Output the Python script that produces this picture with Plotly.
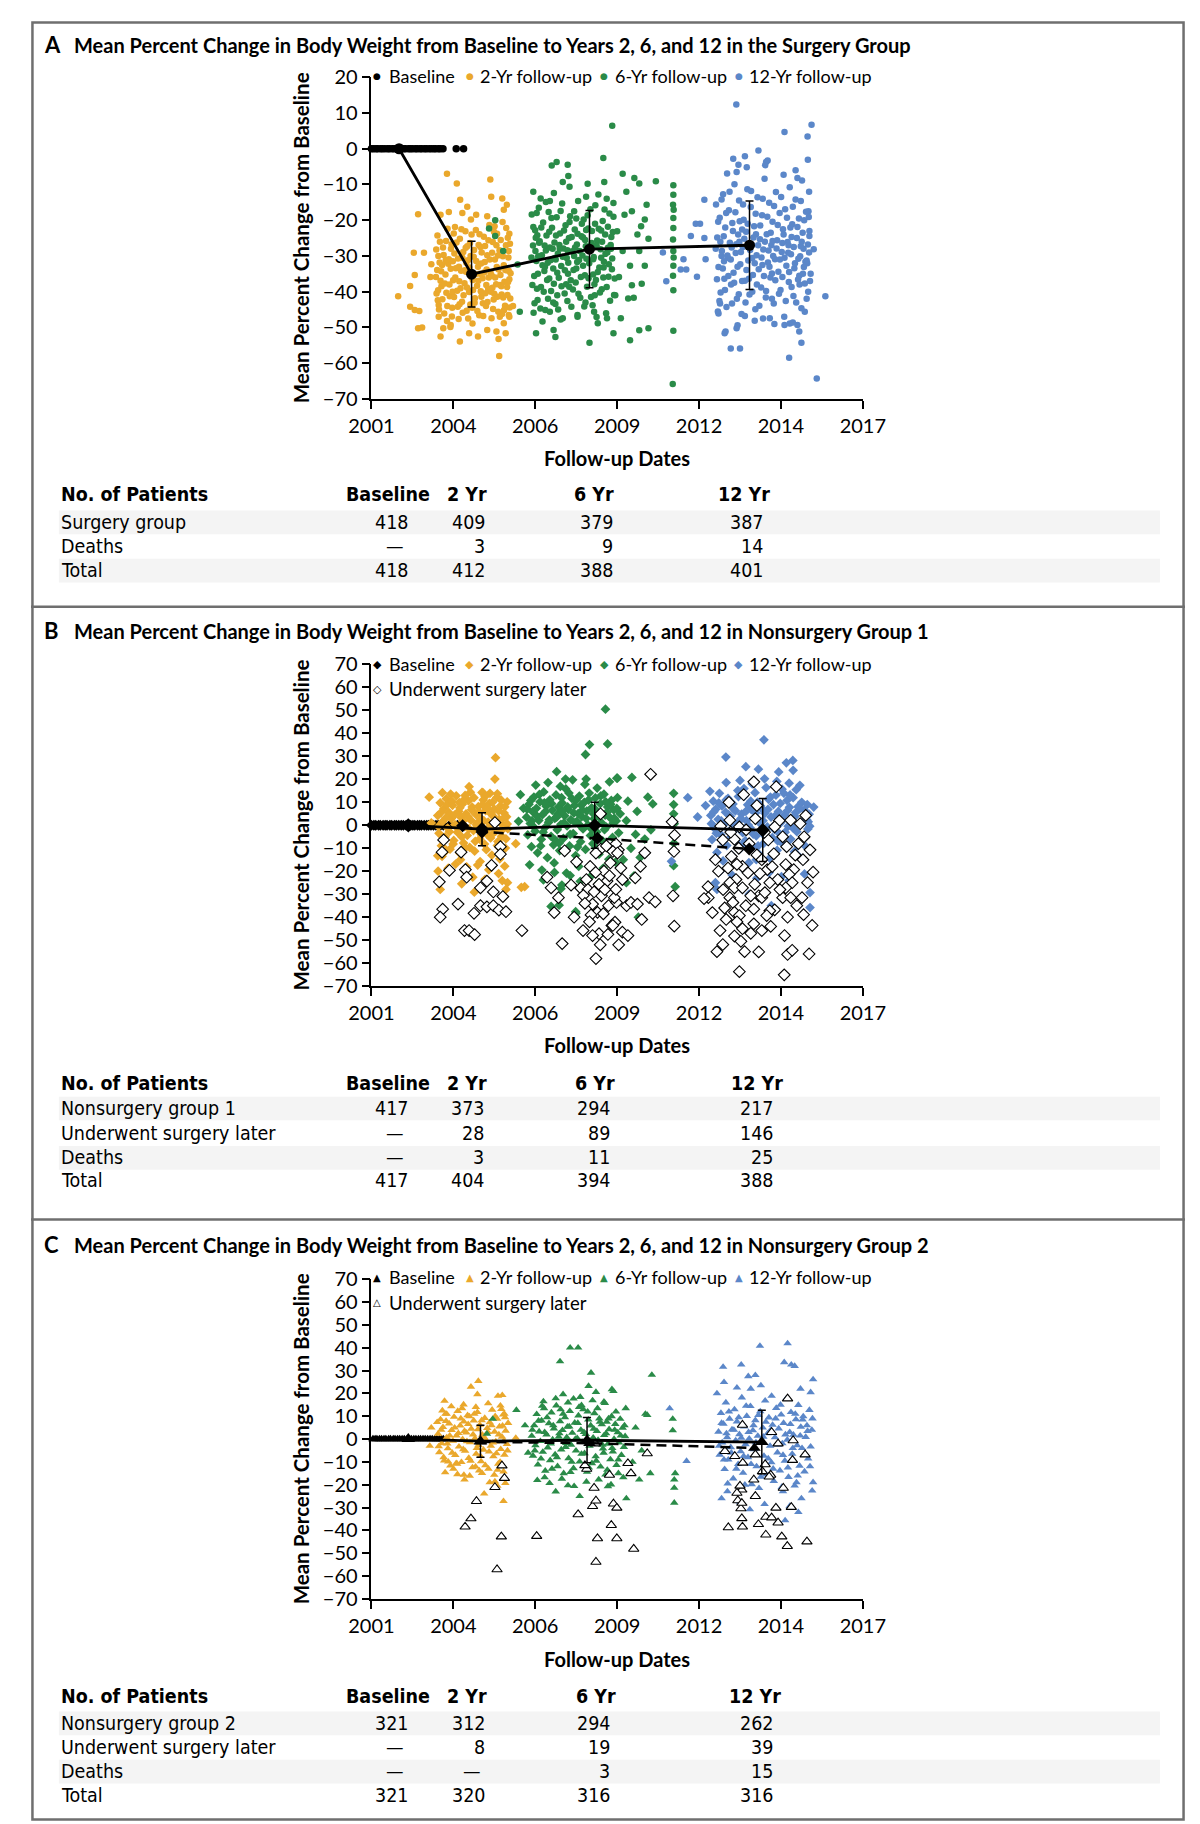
import plotly.graph_objects as go

W, H = 1200, 1824
FONT = "Lato, 'Open Sans', sans-serif"
TFONT = "'Liberation Sans Narrow', 'DejaVu Sans Condensed', 'Arial Narrow', sans-serif"
SYMFONT = "DejaVu Sans"

ORANGE = "#EAA82C"
GREEN = "#2A8B48"
BLUE = "#5B87C9"

TICK_VALS = [2001.0, 2003.667, 2006.333, 2009.0, 2011.667, 2014.333, 2017.0]
TICK_TEXT = ["2001", "2004", "2006", "2009", "2012", "2014", "2017"]

# ---------------- Panel A : surgery group ----------------
A_base_x = [2001.00, 2001.07, 2001.15, 2001.21, 2001.30, 2001.36, 2001.44, 2001.53, 2001.59, 2001.68,
            2001.74, 2001.83, 2001.90, 2001.96, 2002.05, 2002.11, 2002.21, 2002.27, 2002.34, 2002.43,
            2002.49, 2002.58, 2002.64, 2002.73, 2002.79, 2002.88, 2002.95, 2003.03, 2003.09, 2003.18,
            2003.24, 2003.33, 2003.76, 2004.00]
A_base_y = [0, 0, 0, 0, 0, 0, 0, 0, 0, 0, 0, 0, 0, 0, 0, 0, 0, 0, 0, 0, 0, 0, 0, 0, 0, 0, 0, 0, 0, 0, 0, 0, 0, 0]

A_2yr = [
    (2001.87, -41.3), (2002.26, -38.4), (2002.41, -35.3), (2002.38, -29.1), (2002.71, -29.1), (2002.52, -18.3),
    (2002.26, -44.2), (2002.41, -45.1), (2002.56, -45.4), (2002.52, -50.2), (2002.65, -50.0), (2002.92, -35.9),
    (2002.95, -32.3), (2003.46, -7.0), (2003.78, -9.7), (2004.87, -8.6), (2003.89, -14.3), (2004.12, -16.2),
    (2004.90, -13.4), (2005.41, -15.7), (2005.26, -13.9), (2005.16, -58.0), (2003.88, -53.9), (2003.25, -52.5),
    (2005.14, -53.2), (2005.37, -51.6), (2005.61, -44.0), (2005.47, -46.5), (2003.25, -18.5), (2003.52, -17.7),
    (2003.96, -18.0), (2004.24, -19.8), (2004.41, -18.5), (2004.77, -18.9), (2005.01, -21.7), (2005.31, -17.1),
    (2005.49, -23.8), (2005.47, -34.1), (2003.12, -40.5), (2003.10, -35.9), (2003.16, -42.4), (2003.19, -47.0),
    (2003.34, -50.2), (2003.58, -49.3), (2004.18, -51.6), (2004.47, -52.5), (2004.77, -50.7), (2005.07, -51.1),
    (2005.31, -48.8), (2005.49, -47.0),
    (2003.15, -24.3), (2003.22, -31.8), (2003.28, -38.5), (2003.19, -43.7), (2003.33, -27.6), (2003.41, -35.2),
    (2003.37, -46.1), (2003.48, -22.4), (2003.52, -30.9), (2003.55, -41.3), (2003.46, -48.2), (2003.61, -26.7),
    (2003.66, -36.8), (2003.63, -44.5), (2003.72, -21.9), (2003.75, -33.4), (2003.79, -39.7), (2003.70, -29.3),
    (2003.84, -47.6), (2003.88, -25.2), (2003.92, -34.1), (2003.95, -42.8), (2003.99, -28.9), (2004.03, -37.6),
    (2004.06, -23.1), (2004.10, -45.3), (2004.14, -31.2), (2004.18, -40.1), (2004.21, -26.4), (2004.25, -35.8),
    (2004.29, -48.9), (2004.33, -30.2), (2004.36, -43.1), (2004.40, -22.7), (2004.44, -38.3), (2004.47, -33.0),
    (2004.51, -46.6), (2004.55, -27.5), (2004.58, -41.4), (2004.62, -36.2), (2004.66, -24.6), (2004.69, -31.7),
    (2004.73, -44.0), (2004.77, -29.8), (2004.80, -39.2), (2004.84, -21.3), (2004.88, -34.7), (2004.91, -47.4),
    (2004.95, -26.1), (2004.98, -42.2), (2005.02, -31.0), (2005.06, -37.9), (2005.09, -23.8), (2005.13, -45.6),
    (2005.17, -28.4), (2005.20, -35.3), (2005.24, -40.8), (2005.27, -20.5), (2005.31, -32.6), (2005.35, -43.9),
    (2005.38, -27.0), (2005.42, -38.7), (2005.46, -30.4), (2005.49, -36.5), (2005.52, -41.9), (2005.44, -24.9),
    (2003.25, -36.9), (2003.58, -33.6), (2003.82, -30.7), (2004.08, -34.4), (2004.31, -39.5), (2004.57, -32.1),
    (2004.82, -36.0), (2005.08, -33.1), (2005.33, -37.2), (2003.44, -40.3), (2003.68, -23.7), (2003.97, -45.9),
    (2004.23, -30.0), (2004.49, -26.9), (2004.75, -33.8), (2005.00, -40.6), (2005.25, -46.2), (2005.40, -34.0),
    (2003.30, -32.5), (2003.86, -37.1), (2004.38, -35.1), (2004.93, -29.1), (2005.19, -38.1), (2004.64, -46.8),
    (2003.57, -49.9), (2004.12, -27.3)]
A_2yr_more = [
    (2003.11, -28.2), (2003.14, -33.9), (2003.17, -39.6), (2003.20, -45.0), (2003.23, -26.0), (2003.27, -34.3),
    (2003.31, -42.1), (2003.35, -29.7), (2003.39, -37.7), (2003.43, -25.8), (2003.47, -44.0), (2003.50, -32.2),
    (2003.54, -38.0), (2003.59, -28.0), (2003.62, -46.9), (2003.65, -31.5), (2003.69, -41.5), (2003.73, -36.0),
    (2003.77, -26.2), (2003.81, -44.2), (2003.85, -33.0), (2003.90, -39.0), (2003.93, -22.5), (2003.96, -30.5),
    (2004.00, -41.0), (2004.04, -34.0), (2004.07, -27.7), (2004.11, -38.8), (2004.15, -47.5), (2004.19, -33.2),
    (2004.22, -43.6), (2004.26, -24.0), (2004.30, -36.7), (2004.34, -28.3), (2004.37, -41.8), (2004.41, -31.4),
    (2004.45, -45.4), (2004.48, -36.9), (2004.52, -23.9), (2004.56, -39.9), (2004.59, -29.0), (2004.63, -43.2),
    (2004.67, -34.6), (2004.70, -27.2), (2004.74, -38.1), (2004.78, -42.9), (2004.81, -25.6), (2004.85, -31.0),
    (2004.89, -40.0), (2004.92, -35.5), (2004.96, -44.8), (2004.99, -23.2), (2005.03, -36.0), (2005.07, -27.0),
    (2005.10, -41.4), (2005.14, -33.8), (2005.18, -47.0), (2005.21, -25.5), (2005.23, -38.5), (2005.28, -30.1),
    (2005.32, -45.1), (2005.36, -33.9), (2005.39, -22.2), (2005.43, -40.9), (2005.47, -28.6), (2005.50, -44.4),
    (2005.53, -34.8), (2005.51, -26.6), (2003.18, -30.0), (2003.42, -31.1), (2003.64, -40.0), (2003.87, -43.5),
    (2004.09, -31.9), (2004.28, -44.5), (2004.53, -35.0), (2004.71, -40.4), (2004.94, -38.9), (2005.12, -29.9),
    (2005.29, -41.6), (2005.45, -37.3)]

A_6yr = [
    (2004.83, -22.3), (2005.03, -20.0), (2005.29, -28.6), (2005.03, -24.4), (2005.83, -45.6), (2005.76, -32.4),
    (2008.55, -2.6), (2008.84, 6.4), (2007.03, -3.7), (2006.87, -4.7), (2007.39, -4.5), (2006.27, -12.0),
    (2006.51, -13.9), (2006.81, -14.6), (2007.41, -7.6), (2007.23, -9.3), (2007.99, -13.4), (2008.58, -9.3),
    (2008.10, -54.3), (2006.36, -51.6), (2006.93, -50.7), (2006.99, -52.7), (2006.39, -39.2), (2006.81, -45.6),
    (2007.23, -47.4), (2007.71, -47.0), (2008.37, -48.8), (2008.67, -47.4), (2008.25, -45.6), (2009.18, -7.0),
    (2009.56, -8.2), (2009.72, -9.7), (2010.26, -9.1), (2009.96, -15.7), (2009.48, -17.5), (2009.90, -19.8),
    (2009.78, -21.7), (2010.02, -25.2), (2009.66, -24.0), (2009.72, -28.6), (2009.42, -32.7), (2009.90, -32.7),
    (2009.80, -37.8), (2009.48, -38.2), (2009.54, -41.7), (2009.36, -41.9), (2009.12, -47.4), (2009.42, -53.6),
    (2009.72, -50.8), (2010.02, -50.2), (2008.88, -51.6), (2008.94, -41.0), (2009.06, -35.9), (2009.18, -28.6),
    (2009.00, -23.1), (2009.24, -18.5), (2008.88, -15.2), (2009.30, -12.0),
    (2010.83, -10.2), (2010.83, -12.9), (2010.82, -15.7), (2010.84, -17.1), (2010.83, -19.4), (2010.83, -22.2),
    (2010.82, -25.4), (2010.83, -28.6), (2010.84, -30.4), (2010.83, -32.7), (2010.82, -35.5), (2010.83, -39.6),
    (2010.83, -50.9), (2010.81, -65.8),
    (2006.22, -18.4), (2006.26, -27.1), (2006.30, -35.6), (2006.33, -22.8), (2006.37, -31.4), (2006.41, -42.3),
    (2006.45, -16.5), (2006.48, -25.9), (2006.52, -38.7), (2006.55, -29.8), (2006.59, -20.6), (2006.63, -34.2),
    (2006.66, -45.1), (2006.70, -24.3), (2006.74, -31.9), (2006.77, -17.7), (2006.81, -27.6), (2006.85, -39.8),
    (2006.88, -22.1), (2006.92, -33.5), (2006.96, -26.2), (2006.99, -43.4), (2007.03, -19.2), (2007.07, -29.4),
    (2007.10, -36.1), (2007.14, -23.7), (2007.18, -32.8), (2007.21, -15.3), (2007.25, -27.9), (2007.29, -40.5),
    (2007.32, -21.4), (2007.36, -30.6), (2007.40, -35.0), (2007.43, -25.0), (2007.47, -18.9), (2007.51, -44.2),
    (2007.54, -28.7), (2007.58, -33.9), (2007.62, -22.6), (2007.65, -37.4), (2007.69, -26.8), (2007.73, -14.6),
    (2007.76, -31.1), (2007.80, -41.7), (2007.84, -24.5), (2007.87, -29.9), (2007.91, -19.8), (2007.95, -35.4),
    (2007.98, -27.3), (2008.02, -38.6), (2008.06, -22.3), (2008.09, -32.0), (2008.13, -16.9), (2008.17, -26.4),
    (2008.20, -43.8), (2008.24, -30.3), (2008.28, -21.0), (2008.31, -36.7), (2008.35, -25.7), (2008.39, -12.8),
    (2008.42, -33.2), (2008.46, -28.1), (2008.50, -39.3), (2008.53, -20.2), (2008.57, -31.6), (2008.61, -24.0),
    (2008.64, -46.0), (2008.68, -29.0), (2008.72, -35.8), (2008.75, -18.1), (2008.79, -26.9), (2008.83, -33.7),
    (2008.86, -23.3), (2008.90, -40.9), (2006.28, -45.9), (2006.57, -48.3), (2006.94, -12.4), (2007.16, -47.8),
    (2007.45, -10.6), (2007.71, -46.5), (2008.04, -9.8), (2008.33, -47.1), (2008.66, -14.0), (2006.43, -30.1),
    (2006.79, -36.3), (2007.05, -41.0), (2007.38, -28.4), (2007.60, -30.0), (2007.89, -24.8), (2008.22, -35.2),
    (2008.48, -22.9), (2008.70, -27.7), (2006.35, -24.9), (2006.68, -28.5), (2007.00, -31.0), (2007.34, -37.9),
    (2007.67, -19.5), (2007.97, -43.0)]
A_6yr_more = [
    (2006.21, -30.4), (2006.24, -38.1), (2006.27, -21.9), (2006.31, -43.2), (2006.34, -28.6), (2006.38, -18.0),
    (2006.42, -35.0), (2006.46, -26.3), (2006.50, -44.7), (2006.53, -22.0), (2006.57, -32.6), (2006.61, -40.0),
    (2006.64, -27.1), (2006.68, -14.9), (2006.72, -36.7), (2006.75, -42.0), (2006.79, -23.2), (2006.83, -31.2),
    (2006.86, -19.4), (2006.90, -28.0), (2006.94, -37.8), (2006.97, -30.6), (2007.01, -24.3), (2007.05, -34.7),
    (2007.08, -45.0), (2007.12, -26.9), (2007.16, -17.4), (2007.19, -38.5), (2007.23, -30.2), (2007.27, -22.9),
    (2007.30, -34.0), (2007.34, -26.0), (2007.38, -42.6), (2007.41, -31.9), (2007.45, -20.5), (2007.49, -36.8),
    (2007.52, -24.7), (2007.56, -39.4), (2007.60, -17.5), (2007.63, -27.6), (2007.67, -33.5), (2007.71, -23.8),
    (2007.74, -40.6), (2007.78, -28.6), (2007.82, -35.9), (2007.85, -21.0), (2007.89, -32.7), (2007.93, -44.1),
    (2007.96, -25.5), (2008.00, -30.8), (2008.04, -18.6), (2008.07, -36.2), (2008.11, -27.2), (2008.15, -41.5),
    (2008.18, -23.0), (2008.22, -30.9), (2008.26, -37.9), (2008.29, -15.8), (2008.33, -27.0), (2008.37, -34.5),
    (2008.40, -22.4), (2008.44, -40.2), (2008.48, -30.5), (2008.51, -26.0), (2008.55, -36.0), (2008.59, -17.0),
    (2008.62, -29.4), (2008.66, -38.7), (2008.70, -21.8), (2008.73, -32.3), (2008.77, -42.5), (2008.81, -24.7),
    (2008.84, -30.7), (2008.88, -19.0), (2008.92, -36.3), (2006.40, -24.2), (2006.65, -33.0), (2006.92, -43.0),
    (2007.13, -28.0), (2007.44, -38.6), (2007.70, -31.7), (2007.99, -22.7), (2008.27, -41.0), (2008.56, -33.2),
    (2008.80, -28.0)]

A_12yr = [
    (2012.88, 12.4), (2014.45, 4.7), (2015.33, 6.7), (2015.20, 3.4), (2015.21, -3.1), (2015.78, -41.3),
    (2015.50, -64.3), (2014.60, -58.5), (2012.70, -55.9), (2013.00, -55.9), (2012.50, -51.6), (2015.00, -54.3),
    (2013.60, -0.5), (2013.90, -3.3), (2015.25, -12.0), (2015.40, -28.1), (2010.49, -29.0), (2010.60, -37.1),
    (2011.07, -33.8), (2011.25, -33.8), (2011.16, -30.9), (2011.40, -24.4), (2011.56, -21.0), (2011.70, -21.0),
    (2011.60, -35.8), (2011.84, -14.3), (2011.88, -30.9), (2011.84, -25.0), (2012.78, -2.8), (2013.16, -2.1),
    (2012.89, -6.5), (2012.95, -4.5), (2013.85, -3.7), (2014.81, -6.0), (2014.87, -8.2), (2015.23, -17.5),
    (2015.26, -23.0), (2015.17, -31.3), (2014.93, -35.5), (2015.11, -45.6), (2014.87, -49.3), (2014.93, -51.1),
    (2014.45, -49.3), (2014.62, -48.9), (2012.89, -50.2), (2012.53, -51.1), (2013.16, -46.8), (2012.30, -46.1),
    (2012.35, -43.3), (2013.75, -47.5), (2013.97, -47.4),
    (2012.22, -15.6), (2012.26, -24.8), (2012.30, -33.1), (2012.34, -19.3), (2012.37, -40.2), (2012.41, -28.6),
    (2012.45, -12.7), (2012.49, -36.4), (2012.52, -22.0), (2012.56, -44.3), (2012.60, -30.5), (2012.64, -17.2),
    (2012.67, -26.3), (2012.71, -38.0), (2012.75, -20.8), (2012.79, -34.7), (2012.82, -9.9), (2012.86, -29.2),
    (2012.90, -42.0), (2012.94, -24.0), (2012.97, -14.5), (2013.01, -32.3), (2013.05, -46.2), (2013.09, -27.5),
    (2013.12, -19.9), (2013.16, -36.9), (2013.20, -23.2), (2013.24, -11.3), (2013.27, -31.3), (2013.31, -40.8),
    (2013.35, -16.3), (2013.39, -26.9), (2013.42, -35.3), (2013.46, -21.7), (2013.50, -44.9), (2013.54, -29.8),
    (2013.57, -13.6), (2013.61, -33.7), (2013.65, -25.3), (2013.69, -38.8), (2013.72, -18.6), (2013.76, -28.2),
    (2013.80, -8.4), (2013.84, -41.6), (2013.87, -23.9), (2013.91, -31.8), (2013.95, -15.1), (2013.99, -36.0),
    (2014.02, -27.0), (2014.06, -20.4), (2014.10, -43.3), (2014.14, -30.9), (2014.17, -12.1), (2014.21, -25.6),
    (2014.25, -34.4), (2014.29, -18.0), (2014.32, -39.5), (2014.36, -28.9), (2014.40, -22.5), (2014.44, -47.0),
    (2014.47, -16.9), (2014.51, -32.7), (2014.55, -26.1), (2014.59, -37.3), (2014.62, -10.8), (2014.66, -29.5),
    (2014.70, -21.1), (2014.74, -41.2), (2014.77, -33.4), (2014.81, -14.2), (2014.85, -25.0), (2014.89, -36.6),
    (2014.92, -19.5), (2014.96, -30.1), (2015.00, -44.6), (2015.04, -23.5), (2015.07, -28.0), (2015.11, -37.7),
    (2015.15, -17.6), (2015.19, -32.0), (2015.22, -40.0), (2015.26, -24.4), (2015.30, -35.0), (2012.28, -45.5),
    (2012.58, -6.9), (2012.92, -49.4), (2013.22, -5.2), (2013.48, -48.1), (2013.82, -4.6), (2014.12, -49.0),
    (2014.42, -7.3), (2014.72, -48.6), (2015.02, -8.9), (2012.40, -30.0), (2012.73, -27.6), (2013.07, -22.6),
    (2013.40, -30.6), (2013.73, -32.5), (2014.04, -34.9), (2014.38, -26.4), (2014.68, -24.7), (2014.98, -27.3),
    (2015.25, -29.0)]
A_12yr_more = [
    (2012.21, -28.0), (2012.25, -36.5), (2012.29, -20.4), (2012.33, -42.6), (2012.36, -26.0), (2012.40, -14.2),
    (2012.44, -33.5), (2012.47, -24.5), (2012.51, -39.5), (2012.55, -18.0), (2012.59, -29.9), (2012.62, -35.6),
    (2012.66, -12.0), (2012.70, -31.0), (2012.74, -43.3), (2012.77, -23.0), (2012.81, -37.5), (2012.85, -17.8),
    (2012.88, -26.7), (2012.92, -33.0), (2012.96, -40.7), (2012.99, -20.3), (2013.03, -28.9), (2013.07, -37.0),
    (2013.10, -15.6), (2013.14, -25.2), (2013.18, -43.0), (2013.21, -33.9), (2013.25, -21.0), (2013.29, -36.4),
    (2013.33, -28.3), (2013.36, -11.8), (2013.40, -40.0), (2013.44, -24.8), (2013.48, -32.0), (2013.51, -18.2),
    (2013.55, -38.0), (2013.59, -27.0), (2013.63, -43.9), (2013.66, -21.5), (2013.70, -30.4), (2013.74, -14.0),
    (2013.78, -35.6), (2013.81, -26.0), (2013.85, -39.8), (2013.89, -19.0), (2013.93, -28.5), (2013.96, -33.0),
    (2014.00, -23.5), (2014.04, -42.0), (2014.08, -30.0), (2014.11, -16.0), (2014.15, -36.8), (2014.19, -27.9),
    (2014.23, -21.3), (2014.27, -40.6), (2014.30, -31.0), (2014.34, -13.5), (2014.38, -35.9), (2014.42, -24.0),
    (2014.45, -30.5), (2014.49, -42.6), (2014.53, -19.3), (2014.57, -29.1), (2014.60, -34.5), (2014.64, -22.0),
    (2014.68, -38.7), (2014.72, -16.2), (2014.75, -27.5), (2014.79, -32.0), (2014.83, -43.0), (2014.87, -21.9),
    (2014.90, -30.8), (2014.94, -38.0), (2014.98, -14.6), (2015.01, -26.0), (2015.05, -35.0), (2015.09, -20.0),
    (2015.13, -31.6), (2015.17, -42.0), (2015.21, -26.8), (2015.24, -19.1), (2015.28, -37.0), (2012.48, -31.5),
    (2012.98, -26.0), (2013.52, -23.9), (2014.06, -25.8), (2014.58, -27.0), (2015.08, -33.1)]

A_mean_x = [2001.90, 2004.26, 2008.10, 2013.31]
A_mean_y = [0.0, -35.1, -28.1, -27.0]
A_mean_sd = [0.0, 9.2, 10.8, 12.4]

# ---------------- Panel B : nonsurgery group 1 ----------------
B_base_x = [2001.00, 2001.08, 2001.14, 2001.23, 2001.29, 2001.38, 2001.45, 2001.51, 2001.60, 2001.66,
            2001.75, 2001.81, 2001.89, 2001.97, 2002.04, 2002.13, 2002.19, 2002.28, 2002.35, 2002.41,
            2002.50, 2002.57, 2002.63, 2002.72, 2002.80, 2002.86, 2002.94, 2003.02, 2003.10, 2003.17,
            2003.25, 2003.34, 2003.55, 2003.80]
B_base_y = [0, 0, 0, 0, 0, 0, 0, 0, 0, 0, 0, 0, 0, 0, 0, 0, 0, 0, 0, 0, 0, 0, 0, 0, 0, 0, 0, 0, 0, 0, 0, 0, 0, 0]

B_2yr = [
    (2005.04, 29.4), (2005.02, 20.1), (2004.18, 16.8), (2002.88, 12.2), (2004.60, 14.3), (2003.24, -27.9),
    (2005.38, -27.9), (2005.99, -26.7), (2003.17, -20.0), (2003.94, -25.5), (2004.35, -29.1), (2005.43, -25.0),
    (2003.31, 14.2), (2003.16, -13.3), (2004.63, 14.2), (2002.95, 1.0), (2005.70, -8.0), (2005.88, -27.0),
    (2003.16, 4.2), (2003.20, -3.5), (2003.24, 9.8), (2003.28, -8.9), (2003.32, 1.6), (2003.36, 7.3),
    (2003.40, -5.1), (2003.44, 11.5), (2003.48, -1.2), (2003.52, 5.6), (2003.56, -10.4), (2003.60, 2.9),
    (2003.64, 8.7), (2003.68, -6.6), (2003.72, 0.3), (2003.76, 12.8), (2003.80, -3.0), (2003.84, 6.1),
    (2003.88, -12.2), (2003.92, 3.4), (2003.96, 9.2), (2004.00, -7.7), (2004.04, -0.6), (2004.08, 5.0),
    (2004.12, -4.4), (2004.16, 10.6), (2004.20, -9.6), (2004.24, 2.2), (2004.28, 7.9), (2004.32, -2.3),
    (2004.36, -11.3), (2004.40, 4.7), (2004.44, 0.9), (2004.48, 8.1), (2004.52, -6.0), (2004.56, 3.0),
    (2004.60, -1.8), (2004.64, 11.0), (2004.68, -8.2), (2004.72, 6.4), (2004.76, -3.9), (2004.80, 1.4),
    (2004.84, 9.5), (2004.88, -5.5), (2004.92, -13.0), (2004.96, 4.0), (2005.00, 7.0), (2005.04, -2.7),
    (2005.08, 12.1), (2005.12, -7.1), (2005.16, 2.6), (2005.20, 8.4), (2005.24, -4.8), (2005.28, 0.0),
    (2005.32, 5.3), (2005.36, -9.9), (2005.40, 3.7), (2005.44, -1.5), (2003.30, -13.5), (2003.58, 13.6),
    (2003.90, -15.0), (2004.22, 14.4), (2004.54, -15.8), (2004.86, 13.9), (2005.18, -14.6), (2005.42, 10.2),
    (2003.74, -16.9), (2004.10, -18.1), (2004.46, -17.3), (2004.82, -19.4), (2005.14, -21.0), (2005.34, -17.8),
    (2003.50, -18.7), (2004.30, -22.6), (2004.70, -23.5), (2005.26, -24.1)]
B_2yr_more = [
    (2003.18, -0.5), (2003.26, 5.5), (2003.34, -6.7), (2003.42, 3.2), (2003.46, 8.9), (2003.54, -2.8),
    (2003.62, 10.5), (2003.66, -8.1), (2003.70, 4.4), (2003.78, -0.9), (2003.86, 9.9), (2003.94, -5.0),
    (2003.98, 1.9), (2004.02, 11.2), (2004.06, -9.8), (2004.14, 3.8), (2004.18, -1.5), (2004.26, 6.8),
    (2004.34, 12.0), (2004.38, -7.0), (2004.42, 0.2), (2004.50, 5.9), (2004.58, -4.1), (2004.62, 9.0),
    (2004.66, 2.0), (2004.74, -10.6), (2004.78, 7.4), (2004.82, -1.1), (2004.90, 4.9), (2004.94, 10.0),
    (2004.98, -3.3), (2005.06, 1.6), (2005.10, -8.8), (2005.14, 6.3), (2005.22, 11.0), (2005.26, -2.0),
    (2005.30, 3.1), (2005.34, 8.0), (2005.38, -5.9), (2005.42, 0.6), (2003.44, -10.9), (2004.05, 13.0),
    (2004.70, 12.5), (2005.10, 13.7), (2003.88, 7.6)]

B_6yr = [
    (2008.62, 50.5), (2008.10, 35.1), (2008.69, 35.4), (2007.97, 30.8), (2007.03, 23.3), (2007.32, 20.1),
    (2007.99, 20.1), (2008.99, 20.5), (2005.85, 13.3), (2005.95, 7.4), (2005.79, 1.7), (2009.01, 20.5),
    (2009.48, 20.8), (2010.00, 12.2), (2010.16, 9.3), (2006.85, -35.3), (2007.66, -38.3), (2009.69, -40.0),
    (2010.89, -26.7), (2010.84, 13.9), (2010.84, 9.0), (2010.84, 5.0), (2010.86, 0.7), (2010.84, -4.3),
    (2010.85, -7.8), (2010.83, -11.4), (2010.84, -17.6), (2009.10, 5.0), (2009.30, 2.0), (2009.60, -4.0),
    (2009.90, -6.0), (2009.45, -10.0), (2009.20, -15.0), (2009.75, -14.0), (2009.55, -22.0), (2009.30, -25.0),
    (2006.96, -20.5), (2007.11, -34.8), (2007.47, -21.9), (2007.65, -37.6), (2007.17, -27.6), (2009.35, 10.5),
    (2009.65, 6.0), (2010.10, -2.0),
    (2006.05, 3.5), (2006.09, -4.2), (2006.13, 9.1), (2006.17, 0.8), (2006.21, -9.3), (2006.25, 5.9),
    (2006.29, 12.3), (2006.33, -2.6), (2006.37, 7.4), (2006.41, -12.0), (2006.45, 2.1), (2006.49, 10.2),
    (2006.53, -6.1), (2006.57, 4.6), (2006.61, 14.5), (2006.65, -1.0), (2006.69, 8.3), (2006.73, -14.1),
    (2006.77, 1.3), (2006.81, 11.1), (2006.85, -4.8), (2006.89, 6.5), (2006.93, -8.5), (2006.97, 3.0),
    (2007.01, 13.2), (2007.05, -2.0), (2007.09, 7.9), (2007.13, -11.0), (2007.17, 0.4), (2007.21, 9.7),
    (2007.25, -5.7), (2007.29, 4.1), (2007.33, 15.8), (2007.37, -0.3), (2007.41, 6.9), (2007.45, -9.0),
    (2007.49, 2.4), (2007.53, 11.6), (2007.57, -3.6), (2007.61, 8.6), (2007.65, -13.2), (2007.69, 1.7),
    (2007.73, 5.1), (2007.77, 12.7), (2007.81, -7.2), (2007.85, 3.8), (2007.89, -1.6), (2007.93, 10.0),
    (2007.97, -10.5), (2008.01, 6.2), (2008.05, 0.1), (2008.09, 14.0), (2008.13, -4.5), (2008.17, 7.6),
    (2008.21, -8.0), (2008.25, 2.8), (2008.29, 11.9), (2008.33, -2.9), (2008.37, 5.4), (2008.41, -12.6),
    (2008.45, 9.4), (2008.49, 1.1), (2008.53, -6.8), (2008.57, 13.5), (2008.61, 4.4), (2008.65, -0.8),
    (2008.69, 8.0), (2008.73, -14.8), (2008.77, 3.3), (2008.81, 10.8), (2008.85, -5.3), (2008.89, 6.7),
    (2008.93, -9.7), (2008.97, 1.9), (2009.01, 12.0), (2009.05, -3.3), (2006.15, -17.2), (2006.55, -19.5),
    (2006.95, -16.4), (2007.35, -20.8), (2007.75, -17.9), (2008.15, -22.1), (2008.55, -18.6), (2008.95, -16.0),
    (2006.35, 17.5), (2006.75, 18.6), (2007.15, 16.9), (2007.55, 19.8), (2007.95, 17.8), (2008.35, 16.2),
    (2008.75, 18.9), (2006.60, -23.8), (2007.20, -26.0), (2007.80, -24.4), (2008.40, -25.1)]
B_6yr_more = [
    (2006.07, 7.0), (2006.19, 10.8), (2006.27, -0.5), (2006.39, 4.0), (2006.47, 13.4), (2006.59, -3.0),
    (2006.67, 6.0), (2006.79, 2.4), (2006.87, 9.4), (2006.99, -6.5), (2007.07, 4.8), (2007.19, 12.0),
    (2007.27, 1.0), (2007.39, 8.0), (2007.47, -4.0), (2007.59, 5.3), (2007.67, 10.9), (2007.79, 0.0),
    (2007.87, 6.6), (2007.99, 2.9), (2008.07, 11.0), (2008.19, -2.0), (2008.27, 7.2), (2008.39, 3.9),
    (2008.47, 12.8), (2008.59, -1.9), (2008.67, 5.7), (2008.79, 9.1), (2008.87, 0.9), (2008.99, 7.3),
    (2006.23, 2.0), (2006.63, 9.8), (2007.03, 3.5), (2007.43, 14.0), (2007.83, 8.8), (2008.23, 5.0),
    (2008.63, 10.2), (2008.91, 3.1), (2006.51, -9.0), (2007.11, -7.8), (2007.71, -9.5), (2008.31, -10.0),
    (2008.83, -11.5), (2007.23, 6.2), (2007.63, 1.2)]

B_12yr = [
    (2013.78, 37.2), (2012.54, 29.7), (2013.19, 25.5), (2013.60, 24.4), (2014.51, 27.2), (2014.72, 28.2),
    (2014.26, 23.2), (2014.73, 23.9), (2012.25, -27.9), (2015.28, -29.3), (2015.28, -35.8), (2013.03, -27.2),
    (2014.02, -35.0), (2011.62, 3.6), (2012.02, 14.8), (2011.88, 8.6), (2010.77, -15.7), (2015.40, 7.9),
    (2015.22, 1.5), (2011.30, 12.0), (2012.20, -25.0), (2014.60, -24.0), (2013.30, -30.0),
    (2012.05, 4.3), (2012.09, -6.2), (2012.13, 10.5), (2012.17, -1.4), (2012.21, 7.0), (2012.25, -11.8),
    (2012.29, 2.6), (2012.33, 13.9), (2012.37, -4.0), (2012.41, 8.4), (2012.45, -15.5), (2012.49, 0.5),
    (2012.53, 5.7), (2012.57, -8.8), (2012.61, 11.7), (2012.65, -2.5), (2012.69, 3.9), (2012.73, -13.0),
    (2012.77, 9.3), (2012.81, -0.2), (2012.85, 6.3), (2012.89, -7.4), (2012.93, 15.1), (2012.97, 1.8),
    (2013.01, -10.2), (2013.05, 4.9), (2013.09, -3.2), (2013.13, 12.6), (2013.17, -6.7), (2013.21, 2.0),
    (2013.25, 8.9), (2013.29, -16.3), (2013.33, -1.1), (2013.37, 6.8), (2013.41, -9.5), (2013.45, 3.1),
    (2013.49, 14.2), (2013.53, -4.6), (2013.57, 10.1), (2013.61, -12.4), (2013.65, 0.9), (2013.69, 7.5),
    (2013.73, -2.1), (2013.77, -7.9), (2013.81, 5.2), (2013.85, 16.4), (2013.89, -0.7), (2013.93, 11.3),
    (2013.97, -14.3), (2014.01, 3.6), (2014.05, -5.4), (2014.09, 9.0), (2014.13, -1.9), (2014.17, 13.1),
    (2014.21, -10.9), (2014.25, 6.0), (2014.29, -3.7), (2014.33, 1.2), (2014.37, 15.7), (2014.41, -8.3),
    (2014.45, 4.5), (2014.49, -17.0), (2014.53, 10.8), (2014.57, -0.4), (2014.61, 7.8), (2014.65, -6.0),
    (2014.69, 2.9), (2014.73, 12.0), (2014.77, -11.5), (2014.81, 5.5), (2014.85, -2.8), (2014.89, 8.1),
    (2014.93, -13.7), (2014.97, 0.2), (2015.01, 10.0), (2015.05, -4.9), (2015.09, 6.6), (2015.13, -9.1),
    (2015.17, 2.4), (2015.21, -1.6), (2015.25, 4.8), (2012.35, -20.1), (2012.75, -21.8), (2013.15, -19.6),
    (2013.55, -23.0), (2013.95, -20.6), (2014.35, -22.4), (2014.75, -19.0), (2015.10, -21.2), (2012.55, 18.6),
    (2013.00, 19.5), (2013.40, 18.0), (2013.80, 20.2), (2014.20, 19.1), (2014.60, 18.3), (2014.95, 17.4)]
B_12yr_more = [
    (2012.07, 0.7), (2012.15, 5.9), (2012.23, -3.5), (2012.31, 9.7), (2012.39, 1.9), (2012.47, -7.9),
    (2012.55, 11.0), (2012.63, 4.6), (2012.71, -5.0), (2012.79, 7.1), (2012.87, -1.5), (2012.95, 12.5),
    (2013.03, 3.0), (2013.11, -8.2), (2013.19, 6.0), (2013.27, 0.1), (2013.35, 10.5), (2013.43, -3.8),
    (2013.51, 5.4), (2013.59, -9.0), (2013.67, 8.4), (2013.75, 2.0), (2013.83, -4.9), (2013.91, 6.9),
    (2013.99, 12.3), (2014.07, -0.7), (2014.15, 4.1), (2014.23, -6.8), (2014.31, 9.5), (2014.39, 2.6),
    (2014.47, -3.0), (2014.55, 6.4), (2014.63, 13.2), (2014.71, -1.0), (2014.79, 3.8), (2014.87, -8.6),
    (2014.95, 7.2), (2015.03, 1.4), (2015.11, -5.5), (2015.19, 9.0), (2015.27, -0.4), (2013.13, 16.0),
    (2014.43, 13.9), (2013.53, -15.0), (2014.83, 15.5)]

B_later = [
    (2003.35, -6.4), (2003.30, -11.7), (2003.21, -24.6), (2003.54, -19.6), (2003.32, -36.5), (2003.24, -40.0),
    (2003.82, -34.3), (2003.92, -11.7), (2004.06, -19.3), (2004.10, -22.6), (2004.03, -45.8), (2004.18, -45.8),
    (2004.36, -47.6), (2004.34, -38.3), (2004.55, -35.0), (2004.55, -27.2), (2004.76, -24.3), (2004.97, -29.0),
    (2004.91, -17.4), (2004.76, -35.5), (2004.97, -35.0), (2005.15, -36.9), (2005.28, -31.0), (2005.38, -37.6),
    (2005.02, 1.2), (2005.20, -9.3), (2005.20, -12.6), (2005.90, -45.8),
    (2006.72, -22.6), (2006.85, -27.2), (2007.09, -31.5), (2007.29, -11.1), (2007.68, -15.9), (2007.21, -51.5),
    (2007.81, -27.3), (2007.89, -45.8), (2008.00, -23.6), (2008.12, -17.9), (2008.20, -34.3), (2008.31, -58.0),
    (2008.36, -37.9), (2008.41, -47.2), (2008.46, 5.0), (2008.46, -10.4), (2008.49, -30.7), (2008.67, -24.3),
    (2008.72, -35.0), (2008.78, -16.4), (2008.83, -43.6), (2008.93, -42.2), (2008.98, -33.6), (2009.04, -10.7),
    (2008.05, -27.9), (2008.41, -25.7), (2008.57, -20.0), (2008.31, -12.1), (2008.96, -8.1), (2008.86, -11.4),
    (2009.12, -18.6), (2009.17, -23.6), (2008.91, -31.5), (2008.86, -43.6), (2009.17, -46.5), (2009.59, -22.9),
    (2009.76, -17.9), (2009.31, -35.0), (2009.45, -33.6), (2009.66, -34.3), (2010.04, -31.5), (2010.24, -33.3),
    (2010.09, 22.2), (2010.79, 1.5), (2010.87, -4.3), (2010.85, -11.4), (2010.82, -30.7), (2010.86, -43.9),
    (2008.96, -27.9), (2009.01, -12.1), (2007.90, -30.5), (2008.15, -39.0), (2008.25, -29.0), (2008.55, -38.5),
    (2008.60, -28.0), (2008.75, -22.0), (2008.30, -20.5), (2008.10, -42.0), (2008.45, -52.0), (2007.60, -40.0),
    (2007.50, -26.0), (2006.95, -38.0), (2008.70, -47.5), (2009.05, -52.0), (2009.35, -48.0), (2009.80, -41.0),
    (2009.90, -12.0), (2008.20, -48.0), (2007.95, -34.0), (2008.65, -9.0),
    (2013.45, 18.9), (2014.18, 16.8), (2013.55, 8.6), (2013.12, 13.3), (2012.64, 10.0), (2012.67, 2.2),
    (2012.37, -0.4), (2012.44, -6.4), (2012.82, -6.1), (2012.96, -10.0), (2012.72, -13.6), (2012.30, -20.0),
    (2012.61, -18.6), (2012.87, -23.6), (2013.26, -20.7), (2013.48, -25.7), (2013.61, -30.7), (2013.89, -19.3),
    (2014.10, -12.4), (2014.28, 2.0), (2014.39, -5.0), (2014.52, -9.3), (2014.65, 2.2), (2014.96, 0.7),
    (2015.09, -5.0), (2015.28, -10.7), (2015.38, -20.4), (2015.14, 4.3), (2014.75, -19.3), (2014.49, -17.1),
    (2014.60, -21.4), (2014.70, -25.0), (2014.23, -23.6), (2013.97, -25.0), (2013.71, -31.5), (2014.13, -36.8),
    (2014.49, -27.2), (2014.39, -31.5), (2014.65, -31.5), (2015.02, -31.5), (2015.07, -38.9), (2015.35, -43.6),
    (2014.55, -40.0), (2013.71, -45.8), (2013.61, -55.1), (2012.98, -63.7), (2014.44, -65.1), (2014.55, -56.2),
    (2014.70, -54.4), (2013.45, -42.9), (2013.08, -45.0), (2012.82, -48.2), (2013.03, -50.5), (2012.44, -51.9),
    (2012.35, -45.8), (2011.97, -31.5), (2011.83, -31.9), (2011.96, -26.7), (2012.67, -31.5), (2012.77, -33.6),
    (2012.82, -37.9), (2012.98, -39.3), (2013.19, -35.0), (2013.35, -30.7), (2013.45, -36.5), (2012.67, -25.0),
    (2012.82, -27.2), (2013.08, -27.2), (2013.81, -29.3), (2013.97, -37.2), (2013.87, -39.3), (2013.08, -17.9),
    (2013.55, -12.9), (2013.71, -15.0), (2013.92, -6.4), (2012.98, -0.7), (2014.13, -0.7), (2013.50, 2.9),
    (2012.20, -15.0), (2012.50, -36.0), (2012.90, -42.0), (2013.30, -8.0), (2013.80, -3.0), (2014.00, -44.0),
    (2014.30, -28.0), (2014.80, -13.0), (2015.20, -25.0), (2012.10, -38.0), (2012.55, -41.0), (2013.15, -55.0),
    (2013.35, -47.0), (2014.85, -35.0), (2012.25, -55.0), (2012.70, -3.0), (2013.65, -21.0), (2014.05, -18.0),
    (2014.45, -48.0), (2015.25, -56.0), (2012.90, -17.0), (2014.90, -8.0), (2013.20, -2.0), (2015.05, -15.0),
    (2012.45, -28.0)]

B_mean_x = [2002.20, 2004.60, 2008.27, 2013.74]
B_mean_y = [0.0, -1.7, 0.0, -2.1]
B_mean_sd = [0.0, 7.2, 10.0, 13.7]
B_dash_x = [2003.97, 2004.60, 2008.36, 2013.30]
B_dash_y = [-0.2, -2.9, -5.7, -10.3]

# ---------------- Panel C : nonsurgery group 2 ----------------
C_base_x = [2001.05, 2001.12, 2001.18, 2001.26, 2001.33, 2001.41, 2001.47, 2001.56, 2001.62, 2001.71,
            2001.77, 2001.85, 2001.92, 2002.00, 2002.07, 2002.16, 2002.22, 2002.30, 2002.38, 2002.45,
            2002.53, 2002.60, 2002.68, 2002.75, 2002.83, 2002.91, 2002.98, 2003.06, 2003.13, 2003.21,
            2003.28, 2003.34]
C_base_y = [0, 0, 0, 0, 0, 0, 0, 0, 0, 0, 0, 0, 0, 0, 0, 0, 0, 0, 0, 0, 0, 0, 0, 0, 0, 0, 0, 0, 0, 0, 0, 0]

C_2yr = [
    (2004.48, 25.4), (2004.24, 22.9), (2003.38, 16.7), (2005.12, 18.9), (2005.26, 19.2), (2004.45, 19.6),
    (2003.45, 11.0), (2003.14, 7.4), (2005.23, 13.1), (2005.33, 11.0), (2004.03, -17.8), (2004.01, -15.7),
    (2004.67, -23.9), (2005.30, -27.2), (2005.02, -18.6), (2005.36, -19.3), (2004.39, -12.1), (2003.50, -9.9),
    (2003.76, -10.6), (2002.95, 5.0), (2002.90, -3.0), (2005.70, 0.5), (2005.10, -20.5), (2004.85, -19.0),
    (2003.17, 2.3), (2003.21, -5.8), (2003.25, 8.6), (2003.29, -1.9), (2003.33, 5.2), (2003.37, -9.4),
    (2003.41, 11.0), (2003.45, 0.7), (2003.49, -4.1), (2003.53, 6.8), (2003.57, -11.6), (2003.61, 3.9),
    (2003.65, -0.8), (2003.69, 9.7), (2003.73, -7.0), (2003.77, 1.5), (2003.81, 12.3), (2003.85, -3.3),
    (2003.89, 5.9), (2003.93, -10.1), (2003.97, -0.1), (2004.01, 7.6), (2004.05, -5.2), (2004.09, 2.8),
    (2004.13, 10.4), (2004.17, -8.3), (2004.21, -1.4), (2004.25, 4.5), (2004.29, -12.4), (2004.33, 8.1),
    (2004.37, 0.3), (2004.41, -6.5), (2004.45, 11.8), (2004.49, -2.6), (2004.53, 6.2), (2004.57, -9.8),
    (2004.61, 1.9), (2004.65, -4.7), (2004.69, 9.2), (2004.73, -0.5), (2004.77, 4.8), (2004.81, -13.0),
    (2004.85, 7.3), (2004.89, -3.0), (2004.93, 12.8), (2004.97, -7.6), (2005.01, 3.2), (2005.05, -1.1),
    (2005.09, 8.9), (2005.13, -10.8), (2005.17, 5.5), (2005.21, -4.4), (2005.25, 1.0), (2005.29, 10.7),
    (2005.33, -6.9), (2005.37, 3.6), (2005.41, -2.2), (2005.45, 7.0), (2003.40, -14.6), (2003.80, -15.4),
    (2004.20, -16.1), (2004.60, -14.9), (2005.00, -15.7), (2005.30, -14.2), (2003.60, 14.3), (2004.00, 15.1),
    (2004.40, 14.0), (2004.80, 15.6), (2005.20, 14.6)]
C_2yr_more = [
    (2003.19, -3.2), (2003.27, 4.0), (2003.35, -8.0), (2003.43, 7.9), (2003.47, -2.0), (2003.55, 1.5),
    (2003.63, -6.0), (2003.71, 5.0), (2003.79, -10.8), (2003.83, 2.6), (2003.91, 9.0), (2003.99, -4.5),
    (2004.03, 3.5), (2004.11, -1.0), (2004.15, 6.5), (2004.23, -9.5), (2004.31, 2.0), (2004.35, 11.0),
    (2004.43, -4.0), (2004.47, 4.3), (2004.55, -7.5), (2004.59, 8.2), (2004.67, 0.8), (2004.71, -11.5),
    (2004.79, 3.0), (2004.83, -5.5), (2004.91, 6.0), (2004.95, -1.6), (2005.03, 10.0), (2005.07, -6.3),
    (2005.15, 2.0), (2005.19, -10.0), (2005.27, 5.8), (2005.31, -0.8), (2005.35, 9.5), (2005.43, -5.0),
    (2003.31, 12.5), (2003.95, 13.5), (2004.51, -13.8), (2005.11, -13.5), (2004.19, 9.9), (2003.67, -13.0)]

C_6yr = [
    (2007.47, 40.0), (2007.73, 40.0), (2007.14, 34.0), (2008.15, 29.0), (2010.13, 28.1), (2008.07, 23.2),
    (2008.31, 20.6), (2008.83, 21.8), (2008.88, 21.0), (2007.24, 19.6), (2007.58, 17.7), (2007.84, 14.8),
    (2008.57, 16.3), (2009.28, 13.5), (2009.92, 11.0), (2010.81, 8.8), (2005.72, 12.7), (2004.95, 8.8),
    (2004.76, 2.3), (2007.78, -25.0), (2009.30, -26.0), (2010.86, -27.9), (2010.86, -21.4), (2010.86, -17.8),
    (2010.89, -15.0), (2010.08, -15.0), (2009.72, -17.8), (2006.64, -16.8), (2007.40, -20.3), (2008.70, -20.7),
    (2009.04, -15.0), (2010.81, 3.8), (2009.98, 10.5), (2006.00, 6.0), (2006.10, -6.0), (2009.60, 5.0),
    (2009.80, -5.0), (2009.50, -10.0), (2007.00, -23.0),
    (2006.22, 1.4), (2006.26, -7.3), (2006.30, 6.0), (2006.34, -2.8), (2006.38, 10.9), (2006.42, -11.2),
    (2006.46, 3.3), (2006.50, -0.9), (2006.54, 8.1), (2006.58, -5.6), (2006.62, 13.5), (2006.66, -13.9),
    (2006.70, 2.0), (2006.74, -3.7), (2006.78, 6.9), (2006.82, -9.3), (2006.86, 11.6), (2006.90, -0.2),
    (2006.94, 4.6), (2006.98, -6.8), (2007.02, 14.7), (2007.06, -11.9), (2007.10, 1.0), (2007.14, 7.8),
    (2007.18, -4.6), (2007.22, 3.9), (2007.26, -15.0), (2007.30, 9.5), (2007.34, -1.8), (2007.38, 5.4),
    (2007.42, -8.4), (2007.46, 12.2), (2007.50, -2.5), (2007.54, 2.7), (2007.58, -12.8), (2007.62, 7.1),
    (2007.66, -5.1), (2007.70, 0.4), (2007.74, 10.3), (2007.78, -9.9), (2007.82, 4.0), (2007.86, -1.3),
    (2007.90, 13.0), (2007.94, -6.2), (2007.98, 2.2), (2008.02, -14.4), (2008.06, 8.5), (2008.10, -3.0),
    (2008.14, 5.9), (2008.18, -10.6), (2008.22, 0.6), (2008.26, 11.3), (2008.30, -7.6), (2008.34, 3.5),
    (2008.38, -0.4), (2008.42, 9.0), (2008.46, -12.1), (2008.50, 6.4), (2008.54, -4.2), (2008.58, 1.7),
    (2008.62, -15.6), (2008.66, 7.5), (2008.70, -2.1), (2008.74, 4.3), (2008.78, -8.9), (2008.82, 10.0),
    (2008.86, -5.5), (2008.90, 0.0), (2008.94, 6.6), (2008.98, -11.4), (2009.02, 2.9), (2009.06, -1.6),
    (2009.10, 8.8), (2009.14, -7.0), (2009.18, 4.9), (2009.22, -3.5), (2009.26, 1.2), (2006.40, -18.0),
    (2006.80, -19.3), (2007.20, -17.4), (2007.60, -20.6), (2008.00, -18.7), (2008.40, -17.7), (2008.80, -19.9),
    (2009.20, -16.8), (2006.60, 16.5), (2007.00, 17.8), (2007.40, 16.0), (2007.80, 18.4), (2008.20, 16.9),
    (2008.60, 15.8)]
C_6yr_more = [
    (2006.24, 4.0), (2006.32, -5.0), (2006.44, 8.0), (2006.52, -8.6), (2006.64, 3.0), (2006.72, 9.5),
    (2006.84, -2.0), (2006.92, 6.0), (2007.04, -8.0), (2007.12, 2.5), (2007.24, 11.0), (2007.32, -3.5),
    (2007.44, 5.5), (2007.52, -10.0), (2007.64, 0.0), (2007.72, 7.0), (2007.84, -6.5), (2007.92, 3.0),
    (2008.04, 12.0), (2008.12, -1.0), (2008.24, 4.5), (2008.32, -9.5), (2008.44, 7.5), (2008.52, -2.5),
    (2008.64, 2.5), (2008.72, 9.0), (2008.84, -4.0), (2008.92, 4.0), (2009.04, -9.0), (2009.12, 1.5),
    (2009.24, 6.0), (2006.56, 14.5), (2007.16, 13.0), (2007.76, 14.0), (2008.36, 13.5), (2008.96, 12.0),
    (2006.88, -13.0), (2007.48, -14.5), (2008.08, -12.5), (2008.68, -13.5), (2007.36, 0.8), (2008.56, -6.0)]

C_12yr = [
    (2014.55, 41.9), (2013.65, 40.8), (2014.44, 33.6), (2014.67, 32.6), (2014.78, 32.0), (2012.45, 31.6),
    (2013.04, 32.6), (2013.27, 27.5), (2015.38, 26.1), (2013.68, 23.5), (2014.97, 22.0), (2012.48, 24.9),
    (2012.90, 22.5), (2013.35, 22.0), (2014.03, 18.9), (2014.47, -35.6), (2014.20, -30.1), (2014.62, -29.3),
    (2015.35, -22.6), (2013.32, -30.8), (2014.40, -22.9), (2012.59, -22.9), (2010.71, 13.4), (2011.26, -9.6),
    (2012.40, -26.0), (2013.00, -27.5), (2015.00, -26.0), (2014.90, -32.0), (2013.80, -28.5), (2012.25, 20.0),
    (2015.30, 20.5), (2013.50, 28.0),
    (2012.30, 3.2), (2012.34, -6.9), (2012.38, 11.4), (2012.42, -1.5), (2012.46, 6.7), (2012.50, -13.2),
    (2012.54, 16.0), (2012.58, 0.8), (2012.62, -9.0), (2012.66, 8.9), (2012.70, -3.6), (2012.74, 4.2),
    (2012.78, -17.3), (2012.82, 13.0), (2012.86, -0.6), (2012.90, 7.7), (2012.94, -11.0), (2012.98, 2.1),
    (2013.02, -5.4), (2013.06, 18.2), (2013.10, -14.8), (2013.14, 5.5), (2013.18, -2.3), (2013.22, 10.1),
    (2013.26, -8.0), (2013.30, 0.2), (2013.34, 14.4), (2013.38, -19.8), (2013.42, 3.8), (2013.46, -4.5),
    (2013.50, 8.2), (2013.54, -12.0), (2013.58, 1.4), (2013.62, -21.5), (2013.66, 12.1), (2013.70, -1.0),
    (2013.74, 5.0), (2013.78, -7.4), (2013.82, 16.8), (2013.86, -15.6), (2013.90, 2.5), (2013.94, 9.4),
    (2013.98, -3.0), (2014.02, -10.2), (2014.06, 6.2), (2014.10, -18.4), (2014.14, 0.7), (2014.18, 13.6),
    (2014.22, -5.9), (2014.26, 4.6), (2014.30, -13.8), (2014.34, 10.7), (2014.38, -1.9), (2014.42, 7.0),
    (2014.46, -9.5), (2014.50, 17.5), (2014.54, -0.3), (2014.58, -16.6), (2014.62, 3.0), (2014.66, 11.8),
    (2014.70, -6.5), (2014.74, 1.9), (2014.78, -20.4), (2014.82, 8.6), (2014.86, -2.8), (2014.90, 14.9),
    (2014.94, -11.7), (2014.98, 5.3), (2015.02, -4.0), (2015.06, 9.9), (2015.10, -14.2), (2015.14, 0.9),
    (2015.18, 6.0), (2015.22, -8.6), (2015.26, 12.7), (2015.30, -3.3), (2015.34, 4.0), (2015.38, -18.9)]
C_12yr_more = [
    (2012.32, -3.0), (2012.40, 7.0), (2012.48, -9.0), (2012.56, 2.5), (2012.64, 12.0), (2012.72, -6.0),
    (2012.80, 4.0), (2012.88, -13.0), (2012.96, 9.5), (2013.04, 0.5), (2013.12, -7.5), (2013.20, 14.5),
    (2013.28, 3.0), (2013.36, -11.0), (2013.44, 6.0), (2013.52, -1.5), (2013.60, 10.5), (2013.68, -16.5),
    (2013.76, 1.0), (2013.84, 7.5), (2013.92, -8.5), (2014.00, 4.0), (2014.08, -13.0), (2014.16, 9.0),
    (2014.24, -2.5), (2014.32, 15.0), (2014.40, -7.0), (2014.48, 2.0), (2014.56, -12.5), (2014.64, 6.5),
    (2014.72, -4.0), (2014.80, 11.0), (2014.88, -16.0), (2014.96, 1.5), (2015.04, 8.5), (2015.12, -7.0),
    (2015.20, 3.5), (2015.28, -12.0), (2015.36, 9.0), (2013.16, -20.0), (2014.36, -21.0), (2014.84, -19.0),
    (2012.60, -19.5)]

C_later = [
    (2005.25, -11.6), (2005.33, -17.1), (2005.02, -21.1), (2004.42, -27.2), (2004.24, -34.8), (2004.05, -38.4),
    (2005.23, -42.7), (2005.09, -57.1),
    (2006.38, -42.5), (2007.73, -33.0), (2008.01, -13.1), (2007.95, -11.5), (2008.25, -21.4), (2008.20, -29.4),
    (2008.31, -27.0), (2008.31, -53.8), (2008.36, -43.5), (2008.75, -15.7), (2008.81, -37.7), (2008.88, -28.3),
    (2008.99, -30.1), (2008.99, -43.5), (2009.35, -10.6), (2009.45, -15.0), (2009.54, -48.1), (2009.98, -6.3),
    (2008.29, -2.0),
    (2013.08, 6.2), (2014.55, 17.7), (2014.03, 3.0), (2014.24, -2.0), (2014.73, -0.6), (2015.12, -6.8),
    (2012.51, -5.3), (2012.83, -7.5), (2013.09, -10.4), (2013.50, -6.8), (2013.82, -11.1), (2014.71, -9.2),
    (2013.73, -14.2), (2014.00, -15.7), (2013.45, -17.8), (2013.06, -22.2), (2012.90, -23.6), (2012.93, -26.9),
    (2013.50, -25.0), (2014.41, -21.4), (2014.67, -29.8), (2014.17, -30.1), (2013.03, -30.4), (2013.06, -34.7),
    (2013.08, -38.4), (2012.62, -38.7), (2013.84, -34.1), (2014.03, -34.4), (2013.60, -37.3), (2014.24, -36.6),
    (2013.84, -41.9), (2014.36, -42.7), (2014.54, -46.9), (2015.18, -44.9), (2013.06, -28.0), (2013.00, -20.5),
    (2013.95, -16.5)]

C_mean_x = [2002.20, 2004.55, 2008.02, 2013.71]
C_mean_y = [0.0, -0.9, -0.5, -1.3]
C_mean_sd = [0.0, 7.0, 9.9, 13.9]
C_dash_x = [2004.55, 2008.10, 2013.47]
C_dash_y = [-1.2, -1.8, -3.9]

# ---------------- Tables ----------------
A_rows = [("Surgery group", ["418", "409", "379", "387"]),
          ("Deaths", ["\u2014", "3", "9", "14"]),
          ("Total", ["418", "412", "388", "401"])]
B_rows = [("Nonsurgery group 1", ["417", "373", "294", "217"]),
          ("Underwent surgery later", ["\u2014", "28", "89", "146"]),
          ("Deaths", ["\u2014", "3", "11", "25"]),
          ("Total", ["417", "404", "394", "388"])]
C_rows = [("Nonsurgery group 2", ["321", "312", "294", "262"]),
          ("Underwent surgery later", ["\u2014", "8", "19", "39"]),
          ("Deaths", ["\u2014", "\u2014", "3", "15"]),
          ("Total", ["321", "320", "316", "316"])]
TABLE_HEAD = ["Baseline", "2 Yr", "6 Yr", "12 Yr"]

# ================= build figure =================
fig = go.Figure()


def xs(pts):
    return [p[0] for p in pts]


def ys(pts):
    return [p[1] for p in pts]


def ann(x, y, text, size, bold=False, xanchor="left", family=FONT, color="black", angle=0):
    fig.add_annotation(x=x / W, y=1 - y / H, xref="paper", yref="paper",
                       text=("<b>%s</b>" % text) if bold else text, showarrow=False,
                       xanchor=xanchor, yanchor="middle", textangle=angle,
                       font=dict(family=family, size=size, color=color))


PLOT_L, PLOT_R = 354, 865
panels = [
    dict(ax="", top=57, bottom=383, yrange=[-70, 20], sym="circle", size=6.5, msize=11,
         base=(A_base_x, A_base_y), groups=[A_2yr + A_2yr_more, A_6yr + A_6yr_more, A_12yr + A_12yr_more],
         later=None, mean=(A_mean_x, A_mean_y, A_mean_sd), dash=None),
    dict(ax="2", top=652, bottom=978, yrange=[-70, 70], sym="diamond", size=7.5, msize=11,
         base=(B_base_x, B_base_y), groups=[B_2yr + B_2yr_more, B_6yr + B_6yr_more, B_12yr + B_12yr_more],
         later=B_later, mean=(B_mean_x, B_mean_y, B_mean_sd), dash=(B_dash_x, B_dash_y)),
    dict(ax="3", top=1275, bottom=1599, yrange=[-70, 70], sym="triangle-up", size=7.5, msize=12,
         base=(C_base_x, C_base_y), groups=[C_2yr + C_2yr_more, C_6yr + C_6yr_more, C_12yr + C_12yr_more],
         later=C_later, mean=(C_mean_x, C_mean_y, C_mean_sd), dash=(C_dash_x, C_dash_y)),
]

layout_axes = {}
for p in panels:
    xa, ya = "x" + p["ax"], "y" + p["ax"]
    fig.add_trace(go.Scatter(x=p["base"][0], y=p["base"][1], xaxis=xa, yaxis=ya, mode="markers",
                             marker=dict(symbol=p["sym"], size=p["size"] + 1, color="black"),
                             cliponaxis=False, showlegend=False, hoverinfo="skip"))
    for pts, col in zip(p["groups"], [ORANGE, GREEN, BLUE]):
        fig.add_trace(go.Scatter(x=xs(pts), y=ys(pts), xaxis=xa, yaxis=ya, mode="markers",
                                 marker=dict(symbol=p["sym"], size=p["size"], color=col),
                                 showlegend=False, hoverinfo="skip"))
    if p["later"] is not None:
        fig.add_trace(go.Scatter(x=xs(p["later"]), y=ys(p["later"]), xaxis=xa, yaxis=ya, mode="markers",
                                 marker=dict(symbol=p["sym"], size=p["size"] + 1.5, color="white",
                                             line=dict(width=1.1, color="black")),
                                 showlegend=False, hoverinfo="skip"))
    if p["dash"] is not None:
        fig.add_trace(go.Scatter(x=p["dash"][0], y=p["dash"][1], xaxis=xa, yaxis=ya, mode="lines+markers",
                                 line=dict(color="black", width=2.5, dash="10px,6px"),
                                 marker=dict(symbol=p["sym"], size=p["msize"] - 1, color="black"),
                                 showlegend=False, hoverinfo="skip"))
    mx, my, msd = p["mean"]
    fig.add_trace(go.Scatter(x=mx, y=my, xaxis=xa, yaxis=ya, mode="lines+markers",
                             line=dict(color="black", width=2.8),
                             marker=dict(symbol=p["sym"], size=p["msize"], color="black"),
                             error_y=dict(type="data", array=msd, color="black", thickness=1.5, width=4),
                             showlegend=False, hoverinfo="skip"))

    key_x = "xaxis" + p["ax"]
    key_y = "yaxis" + p["ax"]
    layout_axes[key_x] = dict(domain=[PLOT_L / W, PLOT_R / W], anchor=ya, range=[2001, 2017],
                              tickvals=TICK_VALS, ticktext=TICK_TEXT, showgrid=False, zeroline=False,
                              showline=True, linecolor="black", linewidth=1.5, ticks="outside",
                              ticklen=8, tickwidth=1.5, tickcolor="black",
                              tickfont=dict(family=FONT, size=20, color="black"))
    layout_axes[key_y] = dict(domain=[1 - p["bottom"] / H, 1 - p["top"] / H], anchor=xa,
                              range=p["yrange"], dtick=10, tick0=0, showgrid=False, zeroline=False,
                              showline=True, linecolor="black", linewidth=1.5, ticks="outside",
                              ticklen=8, tickwidth=1.5, tickcolor="black",
                              tickfont=dict(family=FONT, size=20, color="black"))

fig.update_layout(width=W, height=H, autosize=False, margin=dict(l=0, r=0, t=0, b=0),
                  paper_bgcolor="white", plot_bgcolor="rgba(0,0,0,0)", showlegend=False, **layout_axes)

# ---------- frame and separators ----------
fig.add_shape(type="rect", xref="paper", yref="paper", x0=1.5 / W, x1=1 - 1.5 / W, y0=1.5 / H, y1=1 - 1.5 / H,
              line=dict(color="#6f6f6f", width=2.5), fillcolor="rgba(0,0,0,0)", layer="above")
for sy in [593.5, 1214.5]:
    fig.add_shape(type="line", xref="paper", yref="paper", x0=0, x1=1, y0=1 - sy / H, y1=1 - sy / H,
                  line=dict(color="#6f6f6f", width=2.5), layer="above")

# ---------- titles ----------
titles = [("A", "Mean Percent Change in Body Weight from Baseline to Years 2, 6, and 12 in the Surgery Group", 24),
          ("B", "Mean Percent Change in Body Weight from Baseline to Years 2, 6, and 12 in Nonsurgery Group 1", 618),
          ("C", "Mean Percent Change in Body Weight from Baseline to Years 2, 6, and 12 in Nonsurgery Group 2", 1240)]
for letter, text, ty in titles:
    ann(11, ty, letter, 22, bold=True)
    ann(43, ty, text, 20, bold=True)

# ---------- legends ----------
legend_cfg = [
    (56, None, "\u25CF", "\u25CF", 9),
    (652, 677, "\u25C6", "\u25C7", 11),
    (1273, 1299, "\u25B2", "\u25B3", 10),
]
leg_items = [("black", 360, 370, "Baseline"), (ORANGE, 456, 465, "2-Yr follow-up"),
             (GREEN, 596, 605, "6-Yr follow-up"), (BLUE, 736, 745, "12-Yr follow-up")]
for ly1, ly2, sym, osym, ssz in legend_cfg:
    for col, sx, tx, label in leg_items:
        fig.add_annotation(x=sx / W, y=1 - ly1 / H, xref="paper", yref="paper", text=sym, showarrow=False,
                           xanchor="center", yanchor="middle", font=dict(family=SYMFONT, size=ssz, color=col))
        ann(tx, ly1, label, 18)
    if ly2 is not None:
        fig.add_annotation(x=360 / W, y=1 - ly2 / H, xref="paper", yref="paper", text=osym, showarrow=False,
                           xanchor="center", yanchor="middle", font=dict(family=SYMFONT, size=ssz, color="black"))
        ann(370, ly2, "Underwent surgery later", 18.5)

# ---------- axis titles ----------
for (ymid, xlab_y) in [(220, 443), (815, 1038), (1437, 1660)]:
    ann(281, ymid, "Mean Percent Change from Baseline", 20.5, bold=True, xanchor="center", angle=-90)
    ann(609, xlab_y, "Follow-up Dates", 20, bold=True, xanchor="center")

# ---------- tables ----------
tables = [
    (A_rows, 480, [508, 533, 557], [417, 476, 608, 771], [394, 474, 607, 763]),
    (B_rows, 1077, [1102, 1127, 1152, 1175], [417, 476, 609, 784], [394, 473, 604, 774]),
    (C_rows, 1698, [1725, 1750, 1774, 1798], [417, 476, 610, 782], [394, 474, 604, 774]),
]
for rows, hy, rys, hx, nx in tables:
    ann(29, hy, "No. of Patients", 19.5, bold=True, family=TFONT)
    for h, x in zip(TABLE_HEAD, hx):
        ann(x, hy, h, 19.5, bold=True, xanchor="right", family=TFONT)
    for i, ((label, vals), ry) in enumerate(zip(rows, rys)):
        if i % 2 == 0:
            fig.add_shape(type="rect", xref="paper", yref="paper", x0=29 / W, x1=1174 / W,
                          y0=1 - (ry + 12) / H, y1=1 - (ry - 12) / H, line=dict(width=0),
                          fillcolor="#f4f4f4", layer="below")
        ann(29, ry, label, 19.5, family=TFONT)
        for v, x in zip(vals, nx):
            xr = x - 4 if v == "\u2014" else x
            ann(xr, ry, v, 19.5, xanchor="right", family=TFONT)

fig.write_html("out.html")
